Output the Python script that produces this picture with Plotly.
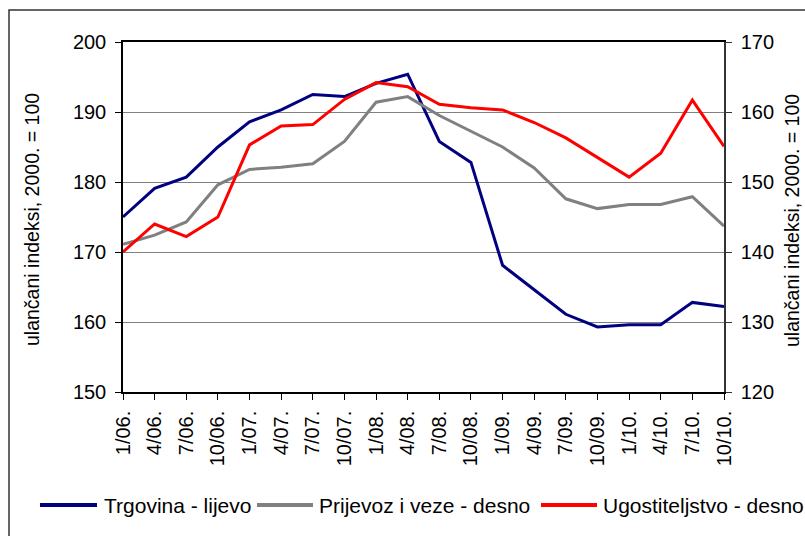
import plotly.graph_objects as go

categories = ["1/06.", "4/06.", "7/06.", "10/06.", "1/07.", "4/07.", "7/07.", "10/07.",
              "1/08.", "4/08.", "7/08.", "10/08.", "1/09.", "4/09.", "7/09.", "10/09.",
              "1/10.", "4/10.", "7/10.", "10/10."]

trgovina = [175.0, 179.1, 180.7, 185.0, 188.6, 190.3, 192.5, 192.2, 194.1, 195.4,
            185.8, 182.8, 168.1, 164.6, 161.1, 159.3, 159.6, 159.6, 162.8, 162.2]

prijevoz = [141.1, 142.4, 144.3, 149.6, 151.8, 152.1, 152.6, 155.8, 161.4, 162.2,
            159.5, 157.2, 155.0, 152.0, 147.6, 146.2, 146.8, 146.8, 147.9, 143.7]

ugostiteljstvo = [140.0, 144.0, 142.2, 145.0, 155.3, 158.0, 158.2, 161.8, 164.2, 163.6,
                  161.1, 160.6, 160.3, 158.5, 156.3, 153.5, 150.7, 154.1, 161.7, 155.1]

names = ["Trgovina - lijevo", "Prijevoz i veze - desno", "Ugostiteljstvo - desno"]
colors = ["#000080", "#808080", "#FF0000"]
axis_title = "ulančani indeksi, 2000. = 100"

font_family = "Liberation Sans, Arial, sans-serif"

# page-pixel geometry of the plot area
PL, PR, PT, PB = 123, 724, 42, 392
PW, PH = PR - PL, PB - PT
W, H = 805, 536


def px(x):
    return (x - PL) / PW


def py(y):
    return (PB - y) / PH


fig = go.Figure()
fig.add_trace(go.Scatter(x=categories, y=trgovina, name=names[0], mode="lines",
                         line=dict(color=colors[0], width=3), yaxis="y"))
fig.add_trace(go.Scatter(x=categories, y=prijevoz, name=names[1], mode="lines",
                         line=dict(color=colors[1], width=3), yaxis="y2"))
fig.add_trace(go.Scatter(x=categories, y=ugostiteljstvo, name=names[2], mode="lines",
                         line=dict(color=colors[2], width=3), yaxis="y2"))

shapes = [dict(type="rect", xref="paper", yref="paper",
               x0=px(9), x1=px(900), y0=py(700), y1=py(10),
               line=dict(color="#333333", width=1.5), fillcolor="rgba(0,0,0,0)",
               layer="below")]
annotations = []

# manual legend
legend_items = [(40, 97, 103), (257, 313, 318), (541, 597, 602)]
LY = 505
for (lx0, lx1, tx), name, col in zip(legend_items, names, colors):
    shapes.append(dict(type="line", xref="paper", yref="paper",
                       x0=px(lx0), x1=px(lx1), y0=py(LY), y1=py(LY),
                       line=dict(color=col, width=4)))
    annotations.append(dict(text=name, xref="paper", yref="paper",
                            x=px(tx), y=py(LY + 1), xanchor="left", yanchor="middle",
                            showarrow=False, borderpad=0,
                            font=dict(size=21, family=font_family, color="black")))

# axis titles
annotations.append(dict(text=axis_title, xref="paper", yref="paper",
                        x=px(32), y=py(220), xanchor="center", yanchor="middle",
                        textangle=-90, showarrow=False,
                        font=dict(size=19.5, family=font_family, color="black")))
annotations.append(dict(text=axis_title, xref="paper", yref="paper",
                        x=px(792), y=py(220), xanchor="center", yanchor="middle",
                        textangle=-90, showarrow=False,
                        font=dict(size=19.5, family=font_family, color="black")))

fig.update_layout(
    width=W, height=H,
    margin=dict(l=PL, r=W - PR, t=PT, b=H - PB, autoexpand=False),
    paper_bgcolor="white", plot_bgcolor="white",
    font=dict(family=font_family, color="black"),
    showlegend=False,
    hovermode=False,
    xaxis=dict(type="category", range=[0, 19], showgrid=False,
               showline=True, linecolor="black", linewidth=1.5, mirror=True,
               ticks="outside", ticklen=6, tickcolor="black", tickwidth=1,
               tickangle=-90, tickfont=dict(size=20), ticklabelstandoff=3),
    yaxis=dict(range=[150, 200], dtick=10, showgrid=True, gridcolor="#808080", gridwidth=1,
               showline=True, linecolor="black", linewidth=1.5,
               ticks="outside", ticklen=6, tickcolor="black",
               tickfont=dict(size=20), ticklabelstandoff=5,
               zeroline=False),
    yaxis2=dict(range=[120, 170], dtick=10, overlaying="y", side="right", showgrid=False,
                showline=True, linecolor="#333333", linewidth=1.5,
                ticks="outside", ticklen=6, tickcolor="#333333",
                tickfont=dict(size=20), ticklabelstandoff=5,
                zeroline=False),
    shapes=shapes,
    annotations=annotations,
)

fig.write_html(
    "out.html",
    config={"displayModeBar": False},
    post_script="document.body.style.margin='0';document.body.style.overflow='hidden';",
)
